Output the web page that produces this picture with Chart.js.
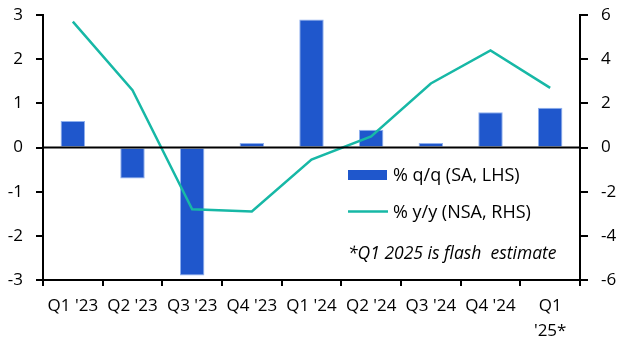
<!DOCTYPE html>
<html>
<head>
<meta charset="utf-8">
<script src="https://cdn.jsdelivr.net/npm/chart.js@4"></script>
<style>
    html, body { margin: 0; padding: 0; background: #fff; }
    #wrap { width: 629px; height: 354px; }
</style>
</head>
<body>
<div id="wrap"><canvas id="gdpChart"></canvas></div>
<script>
// Kategori dan data
const quarters = ["Q1 '23", "Q2 '23", "Q3 '23", "Q4 '23", "Q1 '24", "Q2 '24", "Q3 '24", "Q4 '24", ["Q1", "'25*"]];
const qoqValues = [0.6, -0.7, -2.9, 0.1, 2.9, 0.4, 0.1, 0.8, 0.9];
const yoyValues = [5.7, 2.6, -2.8, -2.9, -0.55, 0.5, 2.9, 4.4, 2.7];
const leftTicks = [-3, -2, -1, 0, 1, 2, 3];
const rightTicks = [-6, -4, -2, 0, 2, 4, 6];
const noteText = "*Q1 2025 is flash  estimate";

const barColor = "#1f57cc";
const lineColor = "#17b8a6";
const fontFamily = "'Open Sans', 'Noto Sans', sans-serif";
const tickSize = 17;

// Garis nol + legenda + catatan
const extras = {
    id: "extras",
    afterDatasetsDraw(chart) {
        const ctx = chart.ctx;
        const area = chart.chartArea;
        const y0 = chart.scales.y.getPixelForValue(0);
        ctx.save();
        ctx.strokeStyle = "#000";
        ctx.lineWidth = 2;
        ctx.beginPath();
        ctx.moveTo(area.left, y0);
        ctx.lineTo(area.right, y0);
        ctx.stroke();

        // legenda
        const lx = 348, ly = 175;
        ctx.fillStyle = barColor;
        ctx.fillRect(lx, ly - 5, 39, 10);
        ctx.strokeStyle = lineColor;
        ctx.lineWidth = 2.5;
        ctx.beginPath();
        ctx.moveTo(lx, ly + 36.5);
        ctx.lineTo(lx + 40, ly + 36.5);
        ctx.stroke();
        ctx.fillStyle = "#000";
        ctx.font = "18px " + fontFamily;
        ctx.textBaseline = "middle";
        ctx.fillText(chart.data.datasets[0].label, lx + 45, ly + 1);
        ctx.fillText(chart.data.datasets[1].label, lx + 45, ly + 37.5);
        ctx.font = "italic 17.5px " + fontFamily;
        ctx.fillText(noteText, lx, ly + 79);
        ctx.restore();
    }
};

// Ukuran sumbu tetap supaya area plot pas
function fixAxis(size) {
    return (axis) => {
        if (axis.isHorizontal()) axis.height = size;
        else axis.width = size;
        axis.paddingTop = 0;
        axis.paddingBottom = 0;
        axis.paddingLeft = 0;
        axis.paddingRight = 0;
    };
}

const axisCommon = {
    border: { color: "#000", width: 2 },
    ticks: { color: "#000", font: { family: fontFamily, size: tickSize, lineHeight: 1.45 } },
};

const ctx = document.getElementById("gdpChart").getContext("2d");
const gdpChart = new Chart(ctx, {
    type: "bar",
    data: {
        labels: quarters,
        datasets: [
            {
                type: "bar",
                label: "% q/q (SA, LHS)",
                data: qoqValues,
                backgroundColor: barColor,
                borderColor: "#8fb0ee",
                borderWidth: 1,
                barPercentage: 0.41,
                categoryPercentage: 1,
                yAxisID: "y",
                order: 2,
            },
            {
                type: "line",
                label: "% y/y (NSA, RHS)",
                data: yoyValues,
                borderColor: lineColor,
                borderWidth: 2.5,
                pointRadius: 0,
                tension: 0,
                yAxisID: "y1",
                order: 1,
            },
        ],
    },
    options: {
        responsive: true,
        maintainAspectRatio: false,
        animation: false,
        layout: { padding: { top: 15, right: 11, left: 6, bottom: 0 } },
        plugins: { legend: { display: false }, tooltip: { enabled: false } },
        scales: {
            x: {
                ...axisCommon,
                afterFit: fixAxis(74),
                grid: { display: true, drawOnChartArea: false, offset: true, color: "#000", lineWidth: 2, tickLength: 6 },
                ticks: { ...axisCommon.ticks, maxRotation: 0, autoSkip: false, padding: 8 },
            },
            y: {
                ...axisCommon,
                position: "left",
                min: -3,
                max: 3,
                afterFit: fixAxis(37),
                afterBuildTicks: (axis) => { axis.ticks = leftTicks.map((v) => ({ value: v })); },
                grid: { display: true, drawOnChartArea: false, color: "#000", lineWidth: 2, tickLength: 7 },
                ticks: { ...axisCommon.ticks, padding: 13 },
            },
            y1: {
                ...axisCommon,
                position: "right",
                min: -6,
                max: 6,
                afterFit: fixAxis(38),
                afterBuildTicks: (axis) => { axis.ticks = rightTicks.map((v) => ({ value: v })); },
                grid: { display: true, drawOnChartArea: false, color: "#000", lineWidth: 2, tickLength: 8 },
                ticks: { ...axisCommon.ticks, padding: 13 },
            },
        },
    },
    plugins: [extras],
});
</script>
</body>
</html>
